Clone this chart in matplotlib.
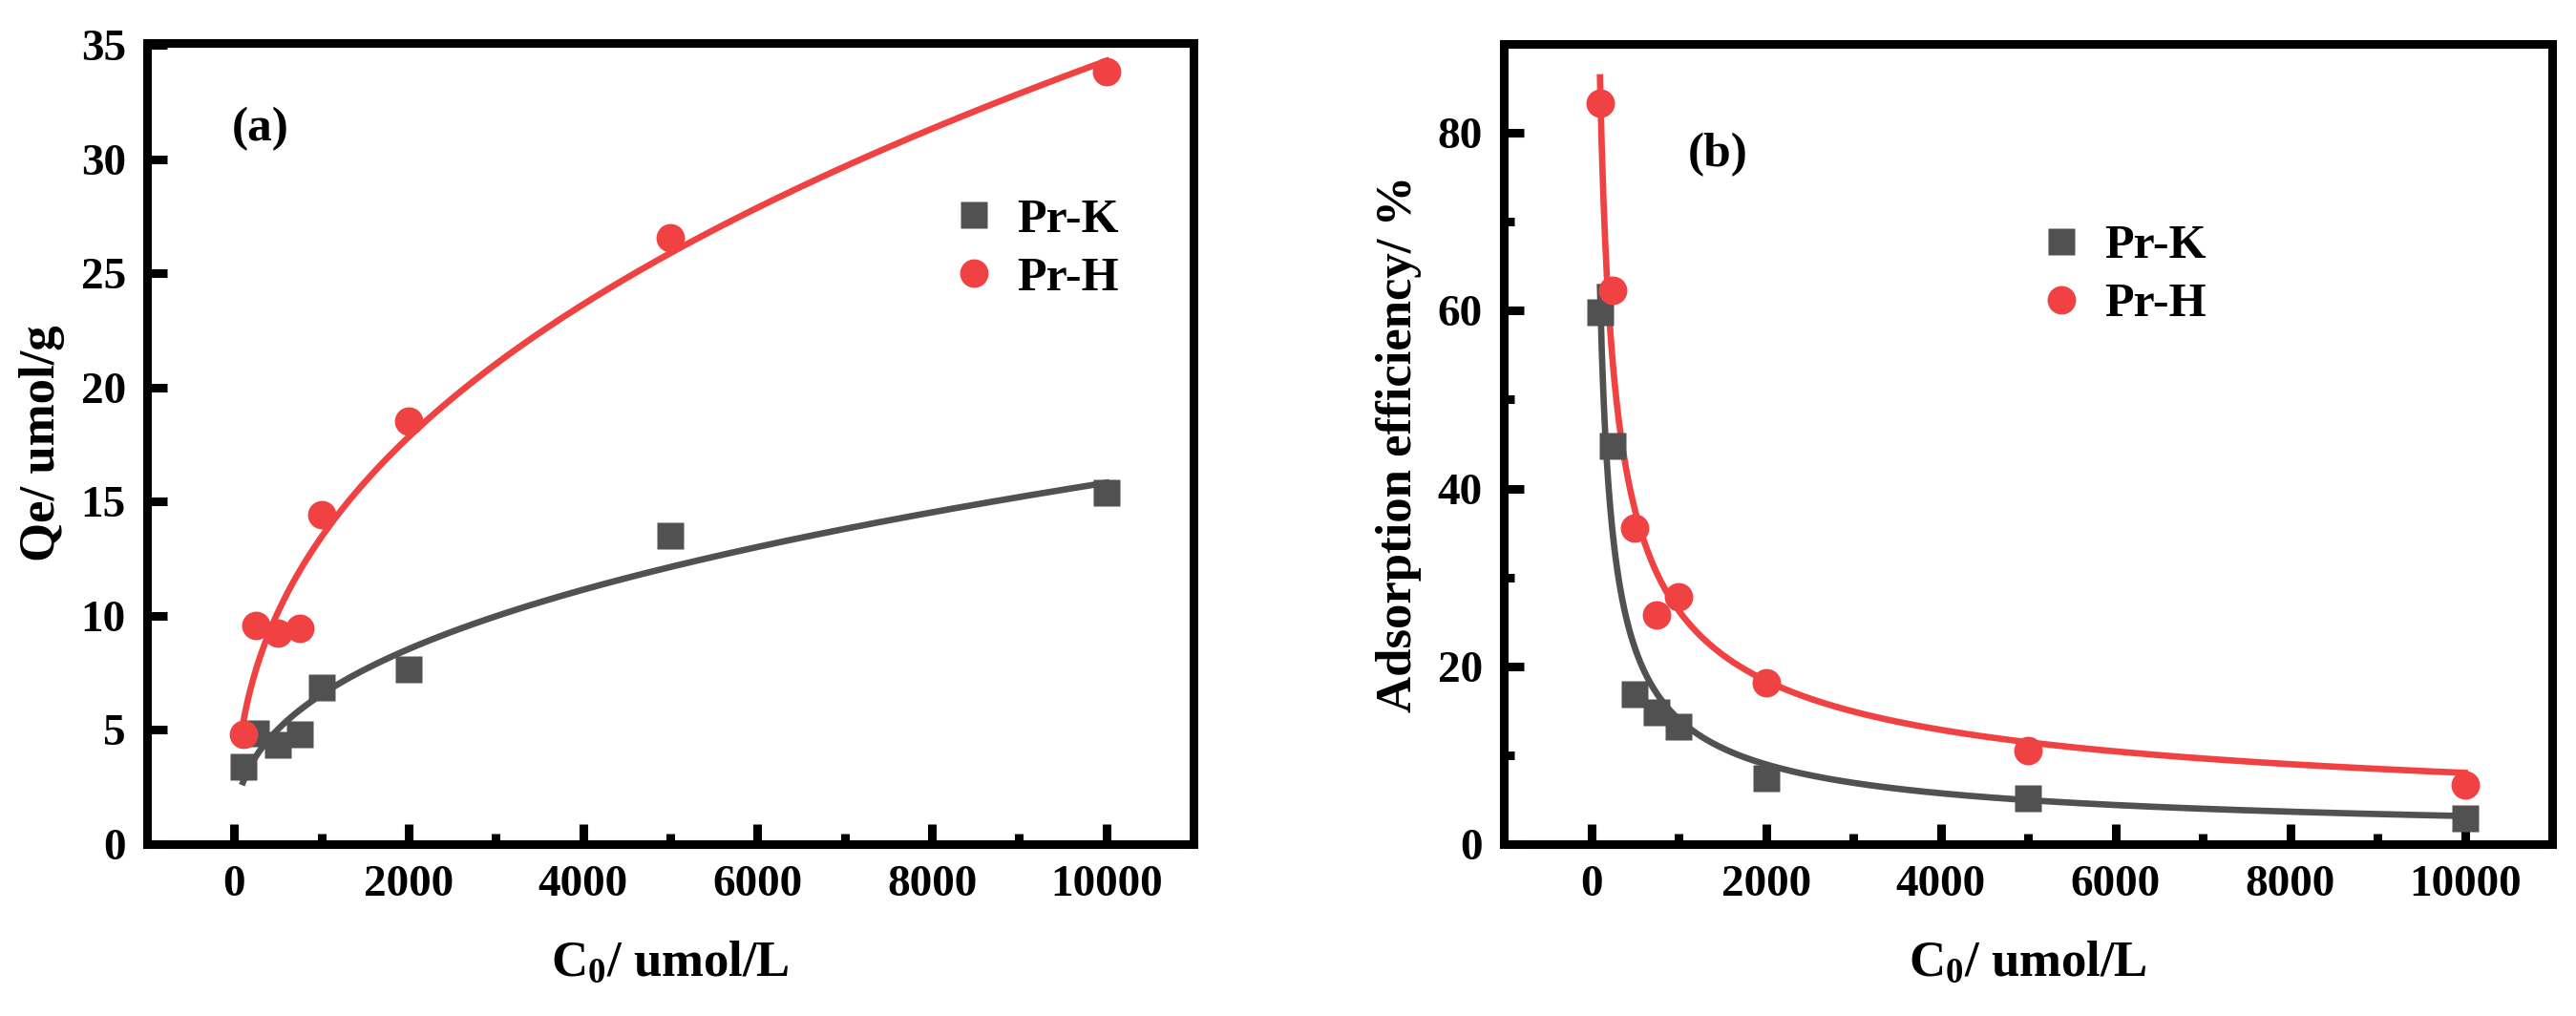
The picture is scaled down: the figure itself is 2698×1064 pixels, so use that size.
import numpy as np
import matplotlib
matplotlib.use("Agg")
import matplotlib.pyplot as plt

# initial concentrations, umol/L
c0 = [100, 250, 500, 750, 1000, 2000, 5000, 10000]

# (a) equilibrium uptake Qe, umol/g
qe_k = [3.4, 4.85, 4.35, 4.8, 6.85, 7.65, 13.5, 15.4]
qe_h = [4.8, 9.6, 9.25, 9.45, 14.45, 18.55, 26.55, 33.85]

# (b) adsorption efficiency, %
eff_k = [59.8, 44.8, 16.9, 14.8, 13.2, 7.4, 5.2, 2.9]
eff_h = [83.3, 62.3, 35.5, 25.8, 27.8, 18.2, 10.5, 6.7]

gray = '#515151'
red = '#F04242'

plt.rcParams['font.family'] = ['Liberation Serif', 'DejaVu Serif']
plt.rcParams['font.weight'] = 'bold'
plt.rcParams['mathtext.fontset'] = 'custom'
plt.rcParams['mathtext.rm'] = 'Liberation Serif:bold'
plt.rcParams['mathtext.it'] = 'Liberation Serif:bold'
plt.rcParams['mathtext.bf'] = 'Liberation Serif:bold'


def power_fit(x, y):
    """least squares fit of y = k * x**b, grid over b"""
    x = np.asarray(x, float)
    y = np.asarray(y, float)
    best = None
    for b in np.linspace(-1.5, 1.5, 6001):
        xb = x ** b
        k = np.sum(y * xb) / np.sum(xb * xb)
        sse = np.sum((y - k * xb) ** 2)
        if best is None or sse < best[0]:
            best = (sse, k, b)
    return best[1], best[2]


def style_axes(ax):
    for s in ax.spines.values():
        s.set_linewidth(6.5)
    ax.tick_params(which='major', direction='in', length=15, width=6.5,
                   labelsize=34, pad=16, top=False, right=False)
    ax.tick_params(which='minor', direction='in', length=8, width=6.5,
                   top=False, right=False)
    ax.set_xlim(-1000, 11000)
    ax.set_xticks([0, 2000, 4000, 6000, 8000, 10000])
    ax.set_xticks([1000, 3000, 5000, 7000, 9000], minor=True)
    ax.set_xlabel(r'$\mathrm{C_0}$/ umol/L', fontsize=38, fontweight='bold', labelpad=26)


def draw_fit(ax, x, y, color):
    k, b = power_fit(x, y)
    xs = np.linspace(min(x), max(x), 500)
    ax.plot(xs, k * xs ** b, color=color, lw=4.8, zorder=2)


fig = plt.figure(figsize=(26.98, 10.64), dpi=100)
ax1 = fig.add_axes([0.0571, 0.1692, 0.4062, 0.7885])
ax2 = fig.add_axes([0.5838, 0.1692, 0.4070, 0.7876])

# (a)
draw_fit(ax1, c0, qe_k, gray)
draw_fit(ax1, c0, qe_h, red)
ax1.plot(c0, qe_k, 's', color=gray, ms=19.5, mec='none', label='Pr-K', zorder=3)
ax1.plot(c0, qe_h, 'o', color=red, ms=21.5, mec='none', label='Pr-H', zorder=3)
style_axes(ax1)
ax1.set_ylim(0, 35.1)
ax1.set_yticks(np.arange(0, 36, 5))
ax1.set_ylabel('Qe/ umol/g', fontsize=38, fontweight='bold', labelpad=12)
ax1.text(0.081, 0.893, '(a)', transform=ax1.transAxes, fontsize=37,
         fontweight='bold', va='center', ha='left')
ax1.legend(loc='center left', bbox_to_anchor=(0.74, 0.742), frameon=False,
           fontsize=36, handletextpad=0.3, labelspacing=0.3, handlelength=1.2,
           borderpad=0)

# (b)
draw_fit(ax2, c0, eff_k, gray)
draw_fit(ax2, c0, eff_h, red)
ax2.plot(c0, eff_k, 's', color=gray, ms=19.5, mec='none', label='Pr-K', zorder=3)
ax2.plot(c0, eff_h, 'o', color=red, ms=21.5, mec='none', label='Pr-H', zorder=3)
style_axes(ax2)
ax2.set_ylim(0, 90)
ax2.set_yticks([0, 20, 40, 60, 80])
ax2.set_yticks([10, 30, 50, 70], minor=True)
ax2.set_ylabel('Adsorption efficiency/ %', fontsize=38, fontweight='bold', labelpad=12)
ax2.text(0.175, 0.862, '(b)', transform=ax2.transAxes, fontsize=37,
         fontweight='bold', va='center', ha='left')
ax2.legend(loc='center left', bbox_to_anchor=(0.482, 0.71), frameon=False,
           fontsize=36, handletextpad=0.3, labelspacing=0.3, handlelength=1.2,
           borderpad=0)

fig.savefig('out.png', dpi=100)
